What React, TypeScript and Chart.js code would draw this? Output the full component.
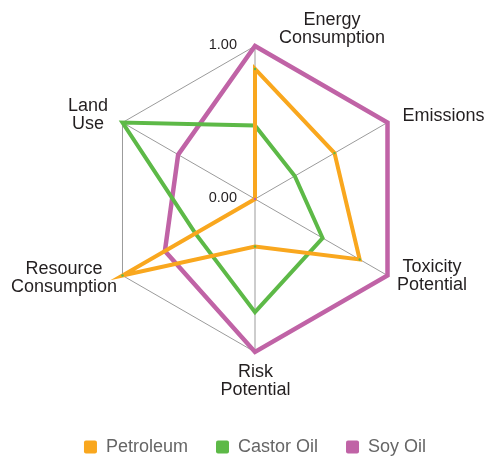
import React, { useEffect, useRef } from 'react';
import { Chart, registerables } from 'chart.js';

Chart.register(...registerables);

// ---- data ----
const axisLabels: string[][] = [
  ['Energy', 'Consumption'],
  ['Emissions'],
  ['Toxicity', 'Potential'],
  ['Risk', 'Potential'],
  ['Resource', 'Consumption'],
  ['Land', 'Use'],
];
const seriesNames = ['Petroleum', 'Castor Oil', 'Soy Oil'];
const petroleum = [0.85, 0.6, 0.79, 0.31, 1.0, 0.0];
const castorOil = [0.48, 0.3, 0.51, 0.74, 0.45, 1.0];
const soyOil = [1.0, 1.0, 1.0, 1.0, 0.68, 0.58];
const tickValues = [0, 1];

// ---- styles ----
const FONT = "'Liberation Sans', Arial, Helvetica, sans-serif";
const ORANGE = '#F9A71E';
const GREEN = '#5DB947';
const PURPLE = '#C063A6';
const GRID = '#9b9b9b';
const TEXT = '#231F20';

// text placement of each axis label relative to its outer vertex
const labelPlacement = [
  { dx: 77, dy: -16.5 },
  { dx: 56, dy: -6.5 },
  { dx: 44.5, dy: 1 },
  { dx: 0.5, dy: 29 },
  { dx: -58.5, dy: 2.5 },
  { dx: -34.5, dy: -7.5 },
];

const labelsPlugin = {
  id: 'customLabels',
  afterDraw(chart: any) {
    const scale = chart.scales.r;
    const ctx = chart.ctx;
    ctx.save();
    ctx.fillStyle = TEXT;
    ctx.textAlign = 'center';
    ctx.textBaseline = 'middle';
    ctx.font = `18px ${FONT}`;
    const lh = 18;
    axisLabels.forEach((lines, i) => {
      const p = scale.getPointPosition(i, scale.drawingArea);
      const pl = labelPlacement[i];
      const cx = p.x + pl.dx;
      const cy = p.y + pl.dy;
      const startY = cy - ((lines.length - 1) * lh) / 2;
      lines.forEach((t, j) => ctx.fillText(t, cx, startY + j * lh));
    });
    // tick labels
    ctx.font = `14.5px ${FONT}`;
    ctx.textAlign = 'right';
    tickValues.forEach((v) => {
      const d = scale.getDistanceFromCenterForValue(v);
      ctx.fillText(v.toFixed(2), scale.xCenter - 18, scale.yCenter - d - 1.5);
    });
    ctx.restore();
  },
};

export default function App() {
  const ref = useRef<HTMLCanvasElement | null>(null);
  useEffect(() => {
    document.body.style.margin = '0';
    const canvas = ref.current!;
    const chart = new Chart(canvas, {
      type: 'radar',
      data: {
        labels: axisLabels.map((l) => l.join(' ')),
        datasets: [
          {
            label: seriesNames[0],
            data: petroleum,
            borderColor: ORANGE,
            backgroundColor: ORANGE,
            borderWidth: 4,
            fill: false,
            pointRadius: 1.2,
            pointBorderWidth: 0,
            pointBackgroundColor: [GREEN, GREEN, GREEN, GREEN, GREEN, PURPLE],
          },
          {
            label: seriesNames[1],
            data: castorOil,
            borderColor: GREEN,
            backgroundColor: GREEN,
            borderWidth: 4,
            fill: false,
            pointRadius: 0,
          },
          {
            label: seriesNames[2],
            data: soyOil,
            borderColor: PURPLE,
            backgroundColor: PURPLE,
            borderWidth: 4.5,
            fill: false,
            pointRadius: 0,
          },
        ],
      },
      options: {
        animation: false,
        responsive: false,
        layout: { padding: { top: 46, left: 23, right: 0, bottom: 0 } },
        elements: { line: { tension: 0, borderJoinStyle: 'miter' } },
        scales: {
          r: {
            min: 0,
            max: 1,
            ticks: { display: false, stepSize: 1 },
            pointLabels: { display: false },
            grid: { color: GRID, lineWidth: 1 },
            angleLines: { color: GRID, lineWidth: 1 },
          },
        },
        plugins: {
          tooltip: { enabled: false },
          legend: {
            position: 'bottom',
            maxHeight: 104,
            title: { display: true, text: '', padding: { top: 48, bottom: 0 }, font: { size: 10, lineHeight: 1 } },
            labels: {
              boxWidth: 13,
              boxHeight: 13,
              padding: 28,
              color: '#333333',
              font: { size: 18, family: FONT },
              useBorderRadius: true,
              borderRadius: 2,
              generateLabels: (c: any) =>
                c.data.datasets.map((ds: any, i: number) => ({
                  text: ds.label,
                  fillStyle: ds.borderColor,
                  strokeStyle: ds.borderColor,
                  lineWidth: 0,
                  hidden: false,
                  datasetIndex: i,
                  borderRadius: 2,
                })),
            },
          },
        },
      },
      plugins: [labelsPlugin],
    } as any);
    return () => chart.destroy();
  }, []);
  return (
    <div style={{ width: 487, height: 456 }}>
      <canvas ref={ref} width={487} height={456} style={{ display: 'block' }} />
    </div>
  );
}
